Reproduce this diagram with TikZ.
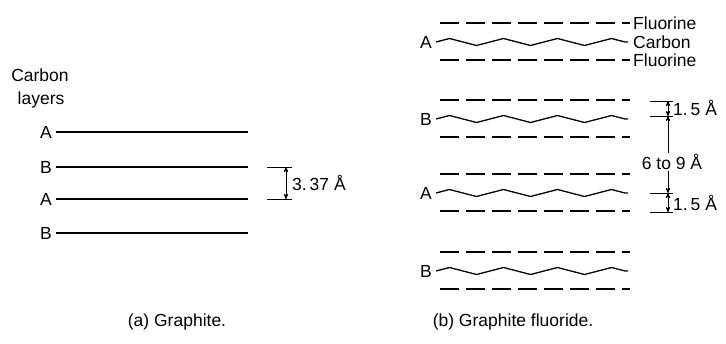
\documentclass[tikz,border=0pt]{standalone}
\usepackage{fontspec}
\setmainfont{Liberation Sans}
\usepackage{tikz}
\usetikzlibrary{arrows,decorations.pathmorphing}

\begin{document}
\begin{tikzpicture}[x=1pt, y=-1pt, >=stealth',
    lbl/.style={font=\fontsize{17.5}{19}\selectfont, inner sep=1pt},
    layer/.style={line width=1.3pt},
    fluor/.style={layer, dash pattern=on 19pt off 7pt},
    carb/.style={layer, decorate, decoration={zigzag, segment length=54pt, amplitude=3.5pt}},
    dim/.style={line width=0.8pt}]
    \useasboundingbox (0,0) rectangle (726,343);

    % Grafite
    \node[lbl, anchor=base] (cl1) at (40,81) {Carbon};
    \node[lbl, anchor=base] (cl2) at (41,104) {layers};
    \foreach \lab/\y [count=\i] in {A/132, B/167, A/199, B/233} {
        \node[lbl, anchor=east] (g\i) at (53,\y) {\lab};
        \coordinate (ge\i) at (248,\y);
        \draw[layer] ([xshift=3pt]g\i.east) -- (ge\i);
    }

    % Cota 3.37
    \coordinate (da) at (286,167);
    \coordinate (db) at (286,199);
    \draw[dim] ([xshift=-19pt]da) -- ([xshift=6pt]da);
    \draw[dim] ([xshift=-19pt]db) -- ([xshift=6pt]db);
    \draw[dim, <->] (da) -- (db);
    \node[lbl, anchor=west] (dl) at (291,183) {3.\,37 Å};

    % Fluoreto de grafite
    \foreach \lab/\y [count=\i] in {A/42, B/119, A/193, B/271} {
        \node[lbl, anchor=east] (f\i) at (433,\y) {\lab};
        \coordinate (fe\i) at (628,\y);
        \draw[carb] ([xshift=3pt]f\i.east) -- (fe\i);
        \draw[fluor] (440,{\y-19}) -- (630,{\y-19});
        \draw[fluor] (440,{\y+18}) -- (630,{\y+18});
    }
    \node[lbl, anchor=west] (n1) at (632,23) {Fluorine};
    \node[lbl, anchor=west] (n2) at (632,42) {Carbon};
    \node[lbl, anchor=west] (n3) at (632,60) {Fluorine};

    % Cotas 1.5 e 6 a 9
    \foreach \y in {101, 116, 193, 212}
        \draw[dim] (650,\y) -- (673,\y);
    \coordinate (p1) at (668,101);
    \coordinate (p2) at (668,116);
    \coordinate (p3) at (668,193);
    \coordinate (p4) at (668,212);
    \draw[dim, <->] (p1) -- (p2);
    \draw[dim, <->] (p3) -- (p4);
    \node[lbl] (s69) at (672,162) {6 to 9 Å};
    \draw[dim, ->] (s69.north -| p2) -- (p2);
    \draw[dim, ->] (s69.south -| p3) -- (p3);
    \node[lbl, anchor=west] (s1) at (672,108) {1.\,5 Å};
    \node[lbl, anchor=west] (s2) at (672,203) {1.\,5 Å};

    % Legendas
    \node[lbl] (capa) at (177,322) {(a) Graphite.};
    \node[lbl] (capb) at (513,322) {(b) Graphite fluoride.};
\end{tikzpicture}
\end{document}
